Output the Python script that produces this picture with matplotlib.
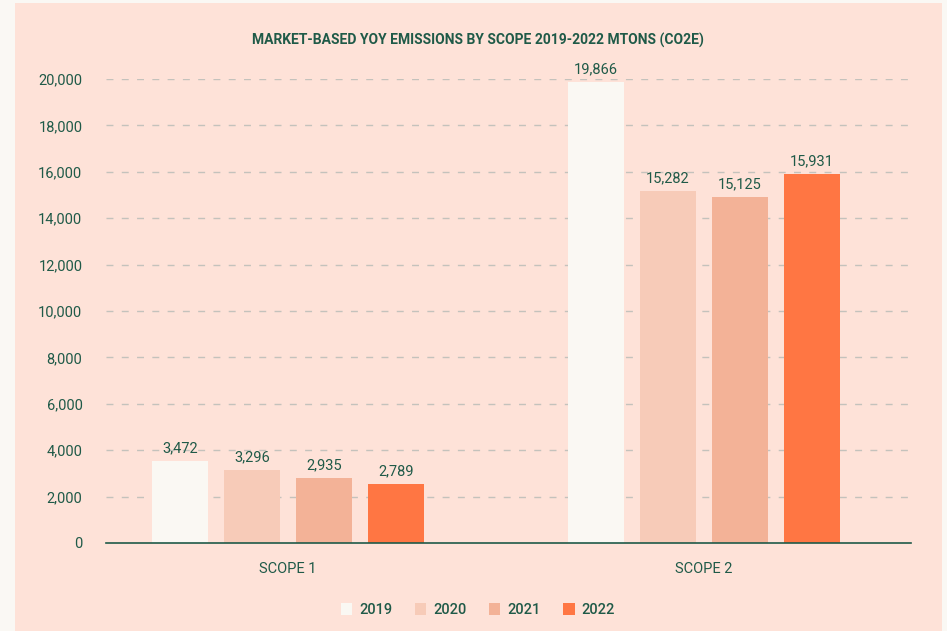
import matplotlib.pyplot as plt
import numpy as np
from matplotlib.patches import Patch

# Data
scopes = ['SCOPE 1', 'SCOPE 2']
years = ['2019', '2020', '2021', '2022']
# bar heights as drawn in the chart
bar_values = {
    '2019': [3530, 19870],
    '2020': [3150, 15170],
    '2021': [2800, 14910],
    '2022': [2540, 15900],
}
# labels printed on top of the bars
bar_labels = {
    '2019': ['3,472', '19,866'],
    '2020': ['3,296', '15,282'],
    '2021': ['2,935', '15,125'],
    '2022': ['2,789', '15,931'],
}
yticks = np.arange(0, 20001, 2000)

colors = {'2019': '#FAF8F3', '2020': '#F7CBB8', '2021': '#F3B297', '2022': '#FF7643'}
text_color = '#1F5A48'
panel_color = '#FEE2D8'
outer_color = '#FAF8F4'

plt.rcParams['font.family'] = ['Roboto', 'DejaVu Sans']

fig = plt.figure(figsize=(9.47, 6.31), dpi=100)
fig.patch.set_facecolor(outer_color)
fig.patches.append(plt.Rectangle((15 / 947, 0), (942 - 15) / 947, 1 - 3 / 631,
                                 transform=fig.transFigure, facecolor=panel_color,
                                 edgecolor='none', zorder=-10))

ax = fig.add_axes([106 / 947, 1 - 543 / 631, (911 - 106) / 947, (543 - 79) / 631])
ax.set_facecolor('none')

x = np.arange(len(scopes))
width = 0.1346
pitch = 0.173
for i, yr in enumerate(years):
    pos = x + (i - 1.5) * pitch
    ax.bar(pos, bar_values[yr], width=width, color=colors[yr], zorder=3)
    for p, v, lab in zip(pos, bar_values[yr], bar_labels[yr]):
        ax.text(p, v + 250, lab, ha='center', va='bottom', fontsize=10.5,
                color=text_color, clip_on=False)

ax.set_xlim(-0.4375, 1.4976)
ax.set_ylim(0, 20000)
ax.set_yticks(yticks)
ax.set_yticklabels([f'{v:,}' for v in yticks])
ax.set_xticks(x)
ax.set_xticklabels(scopes)
ax.tick_params(axis='both', length=0, colors=text_color, labelsize=10.5)
ax.tick_params(axis='y', pad=17)
ax.tick_params(axis='x', pad=14)

for y in yticks[1:]:
    ax.axhline(y, color='#C4C2BC', linestyle=(0, (5, 6)), linewidth=1.0, zorder=1)

for s in ['top', 'right', 'left']:
    ax.spines[s].set_visible(False)
ax.spines['bottom'].set_color('#1F5A48')
ax.spines['bottom'].set_linewidth(1.2)
ax.spines['bottom'].set_zorder(4)

fig.text(478 / 947, 1 - 40 / 631, 'MARKET-BASED YOY EMISSIONS BY SCOPE 2019-2022 MTONS (CO2E)',
         ha='center', va='center', fontsize=10, fontweight='bold', color=text_color)

handles = [Patch(facecolor=colors[yr], edgecolor='none', label=yr) for yr in years]
leg = fig.legend(handles=handles, loc='center', bbox_to_anchor=(478 / 947, 1 - 610 / 631),
                 ncol=4, frameon=False, handlelength=0.8, handleheight=0.8,
                 handletextpad=0.5, columnspacing=1.5,
                 prop={'size': 10.5, 'weight': 'medium'})
for t in leg.get_texts():
    t.set_color(text_color)

fig.savefig('out.png', dpi=100, facecolor=outer_color)
